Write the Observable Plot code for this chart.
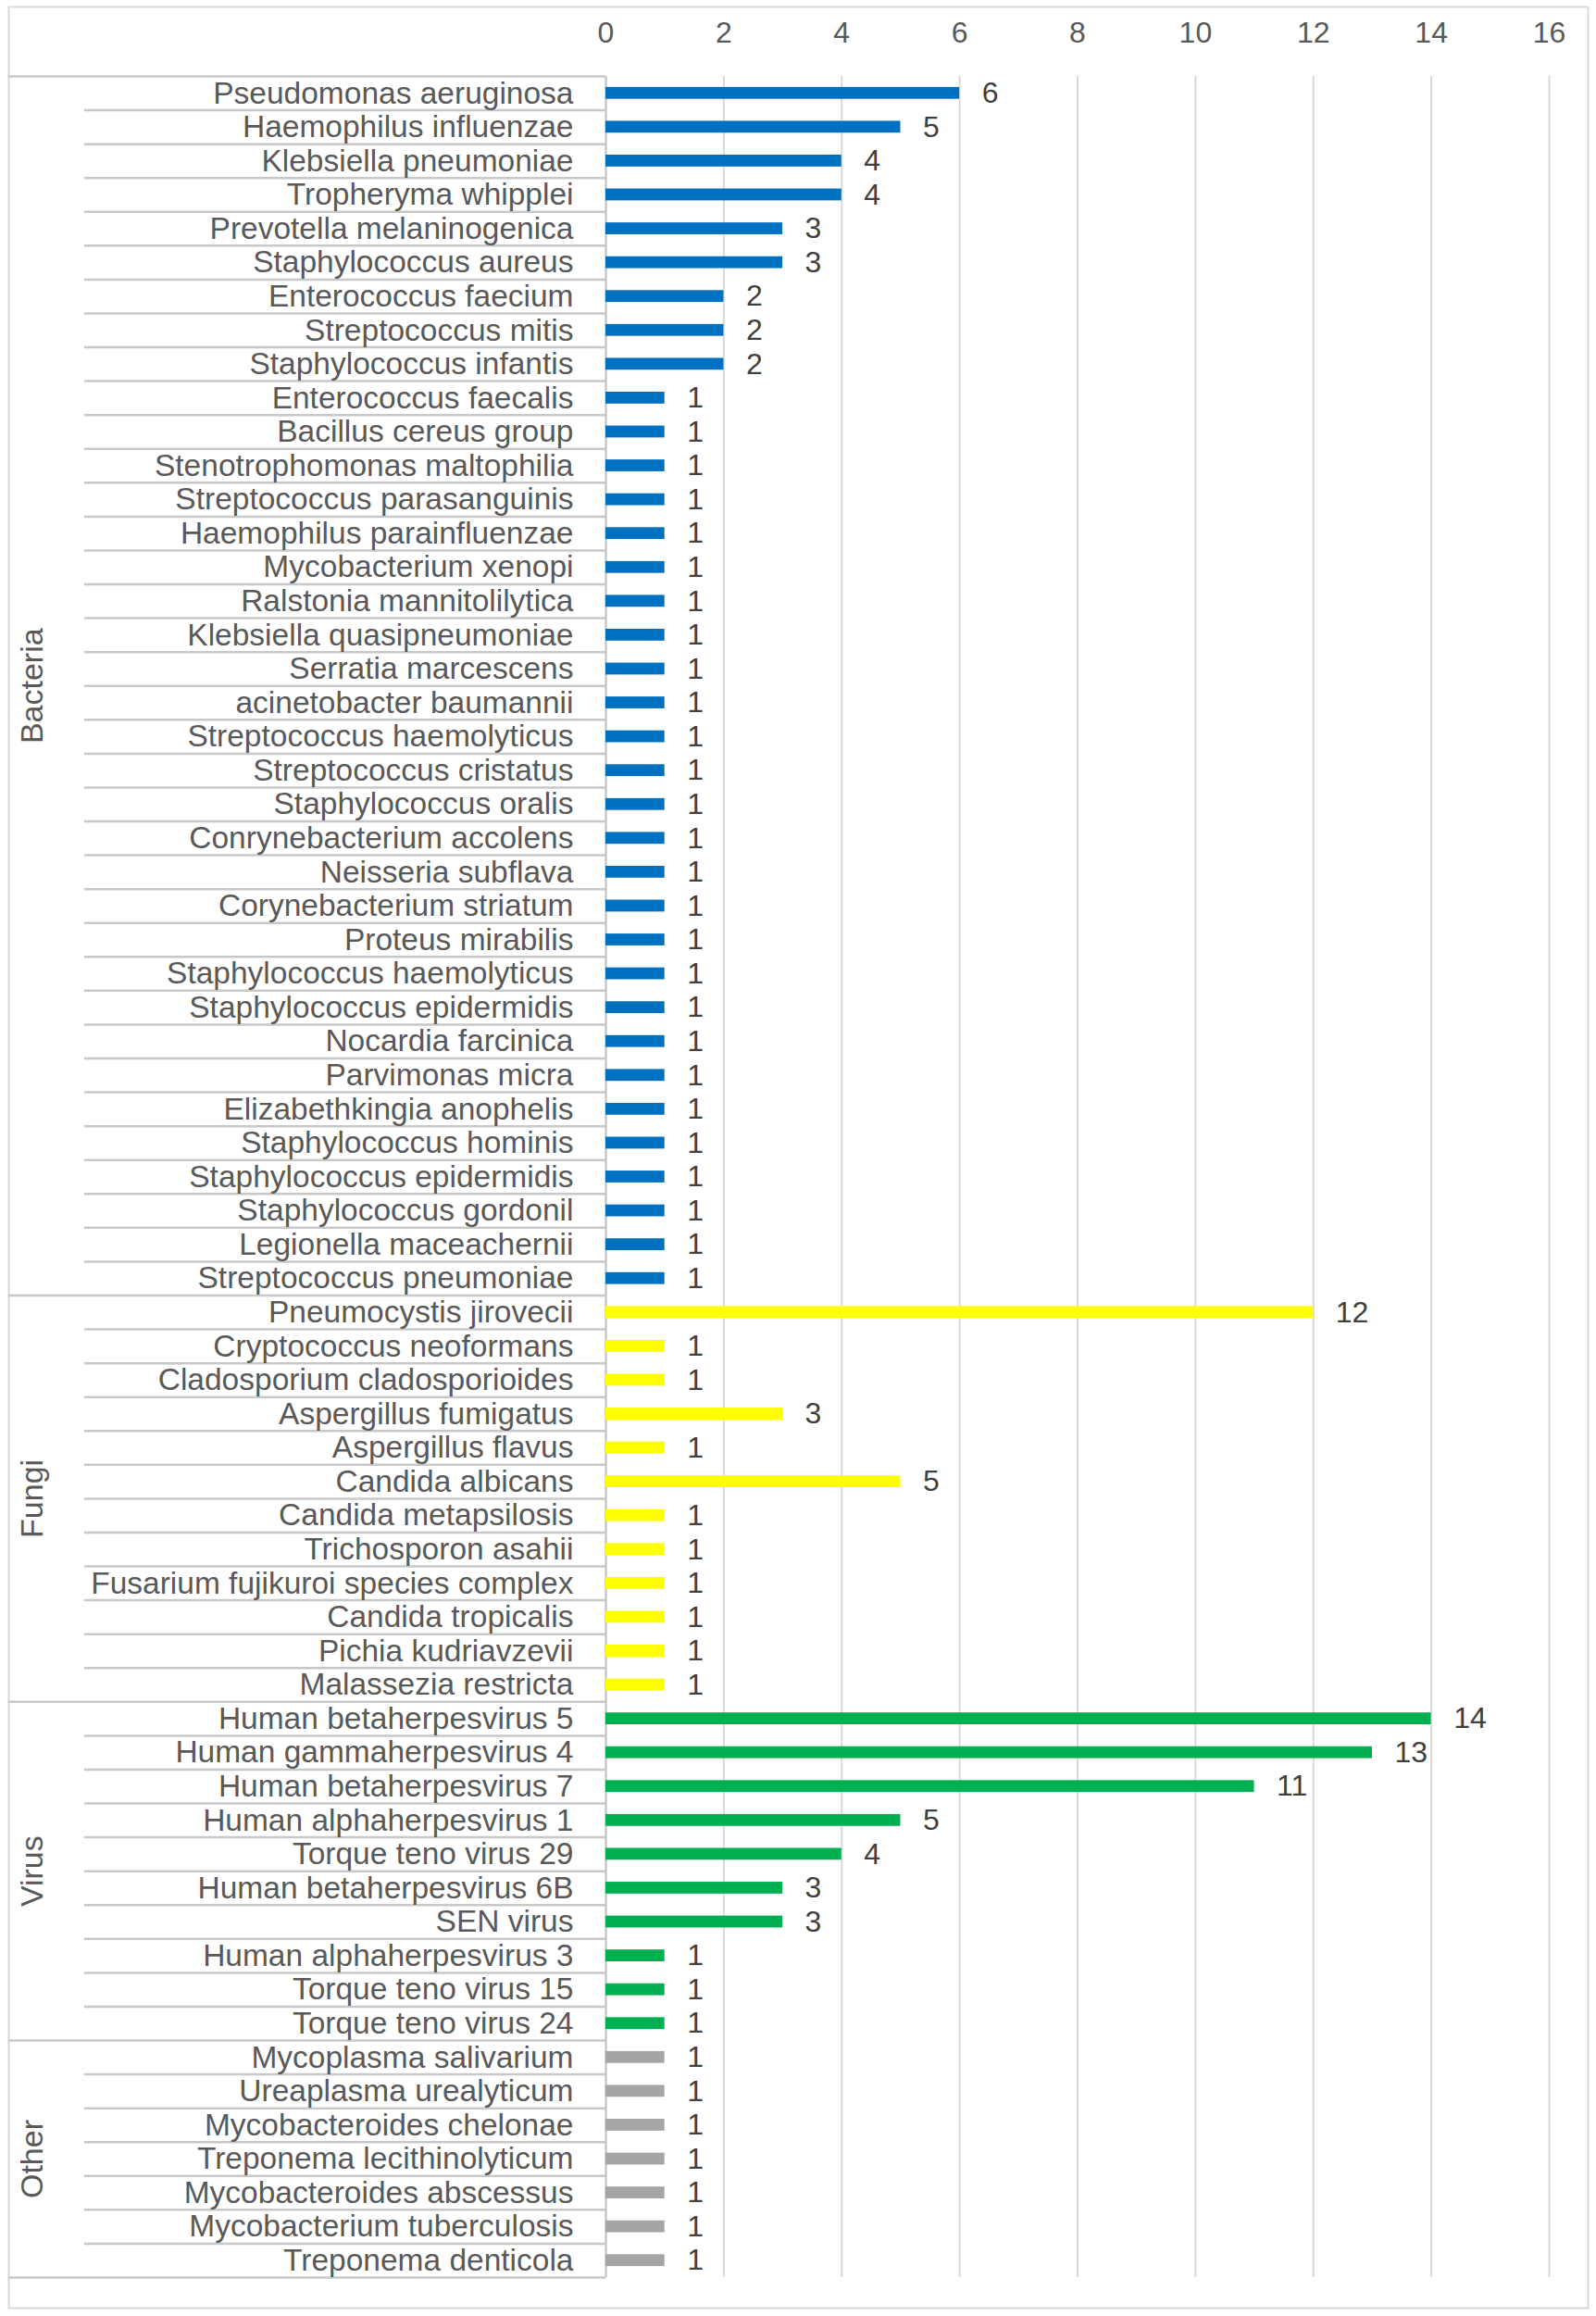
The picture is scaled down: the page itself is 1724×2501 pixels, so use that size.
<!DOCTYPE html>
<html>
<head>
<meta charset="utf-8">
<script src="https://cdn.jsdelivr.net/npm/d3@7"></script>
<script src="https://cdn.jsdelivr.net/npm/@observablehq/plot@0.6"></script>
<style>
  html, body { margin: 0; padding: 0; background: #fff; }
  #chart svg { display: block; }
</style>
</head>
<body>
<div id="chart"></div>
<script>
// ---- Data ----
const groupNames = ["Bacteria", "Fungi", "Virus", "Other"];
const groupColors = ["#0070C0", "#FFFF00", "#00B050", "#A5A5A5"];

const bacteriaNames = [
  "Pseudomonas aeruginosa", "Haemophilus influenzae", "Klebsiella pneumoniae", "Tropheryma whipplei",
  "Prevotella melaninogenica", "Staphylococcus aureus", "Enterococcus faecium", "Streptococcus mitis",
  "Staphylococcus infantis", "Enterococcus faecalis", "Bacillus cereus group", "Stenotrophomonas maltophilia",
  "Streptococcus parasanguinis", "Haemophilus parainfluenzae", "Mycobacterium xenopi", "Ralstonia mannitolilytica",
  "Klebsiella quasipneumoniae", "Serratia marcescens", "acinetobacter baumannii", "Streptococcus haemolyticus",
  "Streptococcus cristatus", "Staphylococcus oralis", "Conrynebacterium accolens", "Neisseria subflava",
  "Corynebacterium striatum", "Proteus mirabilis", "Staphylococcus haemolyticus", "Staphylococcus epidermidis",
  "Nocardia farcinica", "Parvimonas micra", "Elizabethkingia anophelis", "Staphylococcus hominis",
  "Staphylococcus epidermidis", "Staphylococcus gordonil", "Legionella maceachernii", "Streptococcus pneumoniae"
];
const bacteriaCounts = [6, 5, 4, 4, 3, 3, 2, 2, 2, 1, 1, 1, 1, 1, 1, 1, 1, 1, 1, 1, 1, 1, 1, 1, 1, 1, 1, 1, 1, 1, 1, 1, 1, 1, 1, 1];

const fungiNames = [
  "Pneumocystis jirovecii", "Cryptococcus neoformans", "Cladosporium cladosporioides", "Aspergillus fumigatus",
  "Aspergillus flavus", "Candida albicans", "Candida metapsilosis", "Trichosporon asahii",
  "Fusarium fujikuroi species complex", "Candida tropicalis", "Pichia kudriavzevii", "Malassezia restricta"
];
const fungiCounts = [12, 1, 1, 3, 1, 5, 1, 1, 1, 1, 1, 1];

const virusNames = [
  "Human betaherpesvirus 5", "Human gammaherpesvirus 4", "Human betaherpesvirus 7", "Human alphaherpesvirus 1",
  "Torque teno virus 29", "Human betaherpesvirus 6B", "SEN virus", "Human alphaherpesvirus 3",
  "Torque teno virus 15", "Torque teno virus 24"
];
const virusCounts = [14, 13, 11, 5, 4, 3, 3, 1, 1, 1];

const otherNames = [
  "Mycoplasma salivarium", "Ureaplasma urealyticum", "Mycobacteroides chelonae", "Treponema lecithinolyticum",
  "Mycobacteroides abscessus", "Mycobacterium tuberculosis", "Treponema denticola"
];
const otherCounts = [1, 1, 1, 1, 1, 1, 1];

const xTicks = [0, 2, 4, 6, 8, 10, 12, 14, 16];

// ---- Build table ----
const groupLists = [
  [bacteriaNames, bacteriaCounts],
  [fungiNames, fungiCounts],
  [virusNames, virusCounts],
  [otherNames, otherCounts]
];
const rows = [];
const groups = [];
groupLists.forEach(([names, counts], g) => {
  const start = rows.length;
  names.forEach((name, k) => rows.push({i: rows.length, name, value: counts[k], group: groupNames[g]}));
  groups.push({name: groupNames[g], start, end: rows.length - 1, mid: (start + rows.length - 1) / 2});
});
const n = rows.length;
const groupBoundaries = [-0.5, ...groups.map(g => g.end + 0.5)];
const rowBoundaries = rows.filter(r => !groups.some(g => g.end === r.i)).map(r => r.i + 0.5);

// ---- Layout ----
const W = 1724, H = 2501;
const ML = 654, MR = 51, MT = 82, MB = 42;
const FW = W - ML - MR;
const borderLeft = 9, borderTop = 7, borderRight = 1715, borderBottom = 2492;
const rowLineLeft = 91;
const labelGap = 35;
const groupLabelX = 35;
const font = "'Liberation Sans', Arial, sans-serif";
const lineColor = "#C8C8C8";

const chart = Plot.plot({
  width: W,
  height: H,
  marginLeft: ML,
  marginRight: MR,
  marginTop: MT,
  marginBottom: MB,
  style: {fontFamily: font, fontSize: "32px", color: "#595959", background: "#fff"},
  x: {domain: [0, 16], axis: null, label: null},
  y: {domain: [n - 0.5, -0.5], axis: null, label: null},
  color: {domain: groupNames, range: groupColors},
  marks: [
    // outer border
    Plot.frame({stroke: "#D9D9D9", strokeWidth: 2,
      insetLeft: -(ML - borderLeft), insetTop: -(MT - borderTop),
      insetRight: -(borderRight - (W - MR)), insetBottom: -(borderBottom - (H - MB))}),
    // vertical gridlines
    Plot.ruleX(xTicks.filter(t => t > 0), {stroke: "#D9D9D9", strokeWidth: 2}),
    // row separators in category area
    Plot.ruleY(rowBoundaries, {stroke: lineColor, strokeWidth: 2.5, insetLeft: -(ML - rowLineLeft), insetRight: FW}),
    // group separators
    Plot.ruleY(groupBoundaries, {stroke: lineColor, strokeWidth: 2.5, insetLeft: -(ML - borderLeft), insetRight: FW}),
    // category axis line
    Plot.ruleX([0], {stroke: lineColor, strokeWidth: 2.5}),
    // bars
    Plot.rectX(rows, {x1: 0, x2: "value", y1: d => d.i - 0.175, y2: d => d.i + 0.175, fill: "group"}),
    // value labels
    Plot.text(rows, {x: "value", y: "i", text: d => String(d.value), dx: 24, textAnchor: "start", fill: "#404040", fontSize: 32}),
    // category labels
    Plot.text(rows, {frameAnchor: "left", y: "i", text: "name", dx: -labelGap, textAnchor: "end", fill: "#595959", fontSize: 33.5}),
    // group labels
    Plot.text(groups, {frameAnchor: "left", y: "mid", text: "name", rotate: -90, textAnchor: "middle", dx: -(ML - groupLabelX), fill: "#595959", fontSize: 34}),
    // top axis
    Plot.axisX(xTicks, {anchor: "top", tickSize: 0, tickPadding: 37, fontSize: 32, fill: "#595959", label: null})
  ]
});
document.getElementById("chart").appendChild(chart);
</script>
</body>
</html>
